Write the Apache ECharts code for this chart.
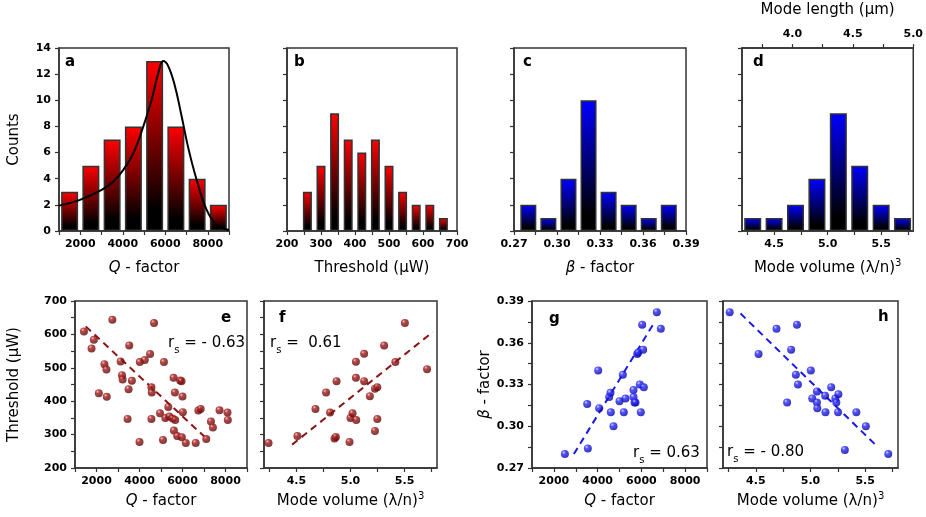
<!DOCTYPE html>
<html>
<head>
<meta charset="utf-8">
<script src="https://cdn.jsdelivr.net/npm/echarts@6/dist/echarts.min.js"></script>
<style>
  html, body { margin: 0; padding: 0; background: #fff; }
  #chart { width: 926px; height: 517px; }
</style>
</head>
<body>
<div id="chart"></div>
<script>
// histograms
const qBins = [1500, 2500, 3500, 4500, 5500, 6500, 7500, 8500]
const qCounts = [3, 5, 7, 8, 13, 8, 4, 2]
const qFitX = [1000, 1988, 3008, 3557, 4027, 4498, 4969, 5361, 5675, 5900, 6145, 6459, 6773, 7086, 7478, 7949, 8420, 9000]
const qFitY = [1.94, 2.38, 3.14, 3.78, 4.68, 5.95, 8.0, 10.04, 12.1, 13.0, 12.6, 11.06, 8.76, 6.34, 3.91, 1.61, 0.46, 0.08]
const thBins = [260, 300, 340, 380, 420, 460, 500, 540, 580, 620, 660]
const thCounts = [3, 5, 9, 7, 6, 7, 5, 3, 2, 2, 1]
const betaBins = [0.28, 0.294, 0.308, 0.322, 0.336, 0.35, 0.364, 0.378]
const betaCounts = [2, 1, 4, 10, 3, 2, 1, 2]
const volBins = [4.3, 4.5, 4.7, 4.9, 5.1, 5.3, 5.5, 5.7]
const volCounts = [1, 1, 2, 4, 9, 5, 2, 1]

// scatter e: Q vs threshold
const eQ = [1416, 1877, 1769, 2738, 2369, 2461, 2108, 2477, 3123, 3185, 3215, 3523, 3646, 3492, 3446, 4000, 4015, 4246, 4492, 4677, 4554, 4569, 4554, 5138, 4954, 5092, 5200, 5338, 5384, 5538, 5584, 5646, 5600, 5661, 5753, 5892, 5954, 6000, 5969, 6015, 6153, 6614, 7106, 6738, 6845, 7322, 7414, 7722, 8092, 8108]
const eTh = [609, 584, 558, 644, 511, 495, 424, 413, 519, 478, 465, 567, 461, 436, 347, 278, 517, 523, 541, 634, 442, 426, 347, 517, 364, 284, 350, 383, 354, 348, 470, 426, 312, 344, 296, 462, 460, 414, 292, 367, 275, 275, 287, 372, 377, 339, 321, 373, 366, 344]
const eFitQ = [1500, 7200]
const eFitTh = [624, 283]
// scatter f: mode volume vs threshold
const fVol = [4.242, 4.509, 4.676, 4.774, 4.811, 4.852, 4.865, 4.871, 4.991, 5.0, 5.019, 5.053, 5.05, 5.05, 5.126, 5.126, 5.179, 5.226, 5.226, 5.248, 5.248, 5.311, 5.415, 5.503, 5.708]
const fTh = [275, 296, 377, 426, 366, 288, 293, 460, 278, 350, 364, 344, 518, 470, 542, 460, 415, 311, 437, 442, 347, 567, 517, 634, 496]
const fFitVol = [4.46, 5.76]
const fFitTh = [270, 607]
// scatter g: Q vs beta
const gQ = [2503, 3553, 3523, 4026, 4071, 4528, 4589, 4604, 4726, 5000, 5153, 5198, 5274, 5640, 5640, 5686, 5731, 5808, 5853, 5929, 5975, 6036, 6082, 6112, 6706, 6889]
const gBeta = [0.280, 0.284, 0.316, 0.340, 0.313, 0.321, 0.324, 0.310, 0.300, 0.318, 0.337, 0.310, 0.320, 0.326, 0.321, 0.317, 0.317, 0.352, 0.353, 0.330, 0.310, 0.373, 0.355, 0.328, 0.382, 0.370]
const gFitQ = [2914, 6569]
const gFitBeta = [0.280, 0.374]
// scatter h: mode volume vs beta
const hVol = [4.261, 4.525, 4.689, 4.876, 4.823, 4.866, 4.885, 4.786, 5.003, 5.016, 5.059, 5.059, 5.062, 5.134, 5.137, 5.189, 5.227, 5.236, 5.255, 5.252, 5.419, 5.506, 5.314, 5.711]
const hBeta = [0.382, 0.352, 0.370, 0.373, 0.355, 0.337, 0.330, 0.317, 0.340, 0.320, 0.325, 0.317, 0.313, 0.322, 0.310, 0.328, 0.320, 0.317, 0.323, 0.310, 0.310, 0.300, 0.283, 0.280]
const hFitVol = [4.36, 5.59]
const hFitBeta = [0.381, 0.287]

// ticks and labels
const qTicks = [1000, 2000, 3000, 4000, 5000, 6000, 7000, 8000, 9000]
const qLabels = [2000, 4000, 6000, 8000]
const thTicks = [200, 250, 300, 350, 400, 450, 500, 550, 600, 650, 700]
const thLabels = [200, 300, 400, 500, 600, 700]
const betaTicks = [0.27, 0.285, 0.30, 0.315, 0.33, 0.345, 0.36, 0.375, 0.39]
const betaLabels = [0.27, 0.30, 0.33, 0.36, 0.39]
const volTicks = [4.25, 4.5, 4.75, 5.0, 5.25, 5.5, 5.75]
const volLabels = [4.5, 5.0, 5.5]
const lenTicks = [3.75, 4.0, 4.25, 4.5, 4.75, 5.0]
const lenLabels = [4.0, 4.5, 5.0]
const countTicks = [0, 2, 4, 6, 8, 10, 12, 14]

const FONT = 'DejaVu Sans'
const LINE = '#333'

const pairs = (xs, ys) => xs.map((x, i) => [x, ys[i]])

function axis (gridIndex, min, max, ticks, labels, fmt, extra) {
  return Object.assign({
    type: 'value',
    gridIndex: gridIndex,
    min: min,
    max: max,
    axisLine: { show: true, onZero: false, lineStyle: { color: LINE, width: 1.5 } },
    axisTick: { show: true, length: 4, customValues: ticks, lineStyle: { color: LINE, width: 1.2 } },
    splitLine: { show: false },
    axisLabel: {
      show: labels.length > 0,
      customValues: labels,
      formatter: fmt,
      color: '#000',
      fontFamily: FONT,
      fontWeight: 'bold',
      fontSize: 11
    }
  }, extra || {})
}

const nameStyle = {
  color: '#000',
  fontFamily: FONT,
  fontSize: 15,
  rich: {
    i: { fontFamily: FONT, fontSize: 15, fontStyle: 'italic', color: '#000', lineHeight: 20, verticalAlign: 'middle' },
    n: { fontFamily: FONT, fontSize: 15, color: '#000', lineHeight: 20, verticalAlign: 'middle' },
    p: { fontFamily: FONT, fontSize: 10, color: '#000', lineHeight: 10, verticalAlign: 'top' }
  }
}
function named (name, gap) {
  return { name: name, nameLocation: 'middle', nameGap: gap, nameTextStyle: nameStyle }
}
const VOL = '{n|Mode volume (λ/n)}{p|3}'

const fmt0 = v => String(v)
const fmt1 = v => v.toFixed(1)
const fmt2 = v => v.toFixed(2)

function grad (top) {
  return new echarts.graphic.LinearGradient(0, 0, 0, 1, [
    { offset: 0, color: top },
    { offset: 0.88, color: '#000' },
    { offset: 1, color: '#000' }
  ])
}
function ball (light, mid, dark) {
  return new echarts.graphic.RadialGradient(0.35, 0.3, 0.75, [
    { offset: 0, color: light },
    { offset: 0.3, color: mid },
    { offset: 1, color: dark }
  ])
}

function hist (idx, bins, counts, top, width) {
  return {
    type: 'bar',
    xAxisIndex: idx.x,
    yAxisIndex: idx.y,
    barWidth: width,
    data: pairs(bins, counts),
    itemStyle: { color: grad(top), borderColor: LINE, borderWidth: 1.5 }
  }
}
function dots (x, y, xs, ys, colors) {
  return {
    type: 'scatter',
    xAxisIndex: x,
    yAxisIndex: y,
    symbolSize: 8,
    data: pairs(xs, ys),
    itemStyle: { color: ball(colors[0], colors[1], colors[2]) },
    z: 3
  }
}
function fit (x, y, xs, ys, color) {
  return {
    type: 'line',
    xAxisIndex: x,
    yAxisIndex: y,
    data: pairs(xs, ys),
    showSymbol: false,
    lineStyle: { color: color, width: 2, type: [7, 5] },
    z: 2
  }
}

const redBall = ['#f2b0b0', '#a31a1a', '#5a0505']
const blueBall = ['#c8c8ff', '#2a2aff', '#0000a0']

const letter = (t, left, top) => ({
  text: t, left: left, top: top, padding: 0,
  textStyle: { fontFamily: FONT, fontWeight: 'bold', fontSize: 15, color: '#000' }
})
const rs = (val, left, top) => ({
  text: '{r|r}{s|s}{r| = ' + val + '}', left: left, top: top, padding: 0,
  textStyle: {
    fontWeight: 'normal',
    rich: {
      r: { fontFamily: FONT, fontSize: 15, fontWeight: 'normal', color: '#000', lineHeight: 24, verticalAlign: 'middle' },
      s: { fontFamily: FONT, fontSize: 10, fontWeight: 'normal', color: '#000', lineHeight: 10, verticalAlign: 'bottom' }
    }
  }
})

const chart = echarts.init(document.getElementById('chart'))
chart.setOption({
  animation: false,
  backgroundColor: '#fff',
  title: [
    letter('a', 65, 55), letter('b', 294, 55), letter('c', 523, 55), letter('d', 753, 55),
    letter('e', 221, 311), letter('f', 279, 311), letter('g', 549, 312), letter('h', 878, 310),
    rs('- 0.63', 168, 331), rs(' 0.61', 270, 331), rs('0.63', 633, 441), rs('- 0.80', 727, 440)
  ],
  grid: [
    { left: 59, top: 48, width: 170, height: 183 },
    { left: 287, top: 48, width: 170, height: 183 },
    { left: 514, top: 48, width: 172, height: 183 },
    { left: 742, top: 48, width: 172, height: 183 },
    { left: 75, top: 301, width: 172, height: 167 },
    { left: 264, top: 301, width: 173, height: 167 },
    { left: 532, top: 301, width: 175, height: 167 },
    { left: 723, top: 301, width: 175, height: 167 }
  ].map(g => Object.assign(g, { show: true, borderColor: LINE, borderWidth: 1.5, backgroundColor: 'transparent' })),
  xAxis: [
    axis(0, 1000, 9000, qTicks, qLabels, fmt0, named('{i|Q}{n| - factor}', 27)),
    axis(1, 200, 700, thTicks, thLabels, fmt0, named('{n|Threshold (µW)}', 27)),
    axis(2, 0.27, 0.39, betaTicks, betaLabels, fmt2, named('{i|β}{n| - factor}', 27)),
    axis(3, 4.2, 5.8, volTicks, volLabels, fmt1, named(VOL, 27)),
    axis(3, 3.583, 5.0, lenTicks, lenLabels, fmt1, Object.assign(named('{n|Mode length (µm)}', 28), { position: 'top' })),
    axis(4, 1000, 9000, qTicks, qLabels, fmt0, named('{i|Q}{n| - factor}', 23)),
    axis(5, 4.2, 5.8, volTicks, volLabels, fmt1, named(VOL, 23)),
    axis(6, 1000, 9000, qTicks, qLabels, fmt0, named('{i|Q}{n| - factor}', 23)),
    axis(7, 4.2, 5.8, volTicks, volLabels, fmt1, named(VOL, 23))
  ],
  yAxis: [
    axis(0, 0, 14, countTicks, countTicks, fmt0, named('{n|Counts}', 35)),
    axis(1, 0, 14, countTicks, [], fmt0),
    axis(2, 0, 14, countTicks, [], fmt0),
    axis(3, 0, 14, countTicks, [], fmt0),
    axis(4, 200, 700, thTicks, thLabels, fmt0, named('{n|Threshold (µW)}', 51)),
    axis(5, 200, 700, thTicks, [], fmt0),
    axis(6, 0.27, 0.39, betaTicks, betaLabels, fmt2, named('{i|β}{n| - factor}', 34)),
    axis(7, 0.27, 0.39, betaTicks, [], fmt2)
  ],
  series: [
    hist({ x: 0, y: 0 }, qBins, qCounts, '#ff0000', 17),
    {
      type: 'line',
      xAxisIndex: 0,
      yAxisIndex: 0,
      data: pairs(qFitX, qFitY),
      smooth: 0.4,
      showSymbol: false,
      lineStyle: { color: '#000', width: 2 },
      z: 4
    },
    hist({ x: 1, y: 1 }, thBins, thCounts, '#ff0000', 9),
    hist({ x: 2, y: 2 }, betaBins, betaCounts, '#0000ff', 16),
    hist({ x: 3, y: 3 }, volBins, volCounts, '#0000ff', 17),
    dots(5, 4, eQ, eTh, redBall),
    fit(5, 4, eFitQ, eFitTh, '#8b1414'),
    dots(6, 5, fVol, fTh, redBall),
    fit(6, 5, fFitVol, fFitTh, '#8b1414'),
    dots(7, 6, gQ, gBeta, blueBall),
    fit(7, 6, gFitQ, gFitBeta, '#1a1ae6'),
    dots(8, 7, hVol, hBeta, blueBall),
    fit(8, 7, hFitVol, hFitBeta, '#1a1ae6')
  ]
})
</script>
</body>
</html>
